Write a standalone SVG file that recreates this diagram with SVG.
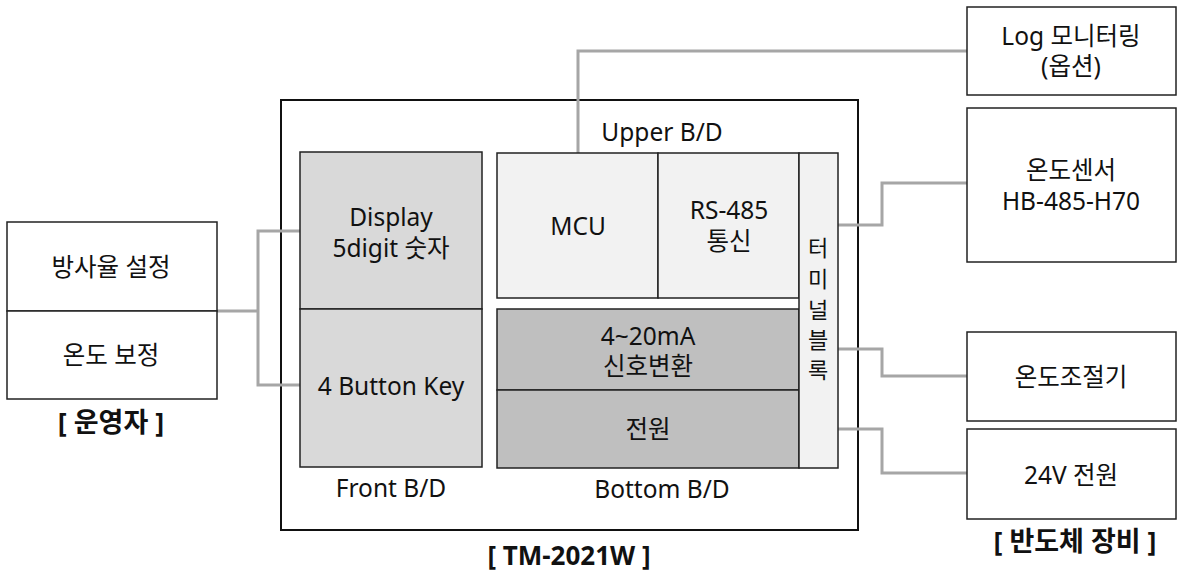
<svg xmlns="http://www.w3.org/2000/svg" width="1186" height="582" viewBox="0 0 1186 582">
<style>
text{font-family:"Noto Sans","Noto Sans CJK KR",sans-serif;font-size:24.5px;fill:#111;text-anchor:middle}
.b{font-weight:bold;font-size:27px}
.t{font-size:22px}
.box{stroke:#222;stroke-width:1.5}
.w{fill:#fff}
.l{fill:#f2f2f2}
.m{fill:#d9d9d9}
.d{fill:#bfbfbf}
.c{fill:none;stroke:#a6a6a6;stroke-width:3}
</style>
<rect width="1186" height="582" fill="#fff"/>
<g id="tm2021w">
<rect x="281" y="100" width="577" height="430" fill="#fff" stroke="#111" stroke-width="2"/>
<text class="b" x="569" y="565" style="font-size:26px">[ TM-2021W ]</text>
</g>
<g id="connectors">
<polyline class="c" points="217,311 258,311"/>
<polyline class="c" points="300,231 258,231 258,385 300,385"/>
<polyline class="c" points="578,153 578,51 967,51"/>
<polyline class="c" points="838,225 882,225 882,183 967,183"/>
<polyline class="c" points="838,349 882,349 882,376 967,376"/>
<polyline class="c" points="838,429 882,429 882,473 967,473"/>
</g>
<g id="operator">
<rect class="box w" x="7" y="222" width="210" height="89"/>
<text x="111" y="276">방사율 설정</text>
<rect class="box w" x="7" y="311" width="210" height="88"/>
<text x="111" y="364">온도 보정</text>
<text class="b" x="111" y="432">[ 운영자 ]</text>
</g>
<g id="front-bd">
<rect class="box m" x="300" y="152" width="182" height="157"/>
<text x="391" y="226">Display</text>
<text x="391" y="257">5digit 숫자</text>
<rect class="box m" x="300" y="309" width="182" height="158"/>
<text x="391" y="395">4 Button Key</text>
<text x="391" y="497">Front B/D</text>
</g>
<g id="upper-bd">
<text x="662" y="141">Upper B/D</text>
<rect class="box l" x="497" y="153" width="161" height="145"/>
<text x="578" y="235">MCU</text>
<rect class="box l" x="658" y="153" width="141" height="145"/>
<text x="729" y="219">RS-485</text>
<text x="729" y="250">통신</text>
</g>
<g id="bottom-bd">
<rect class="box d" x="497" y="309" width="302" height="81"/>
<text x="648" y="345">4~20mA</text>
<text x="648" y="375">신호변환</text>
<rect class="box d" x="497" y="390" width="302" height="78"/>
<text x="648" y="438">전원</text>
<text x="662" y="498">Bottom B/D</text>
</g>
<g id="terminal-block">
<rect class="box l" x="799" y="153" width="39" height="315"/>
<text class="t" x="818" y="256">터</text>
<text class="t" x="818" y="287">미</text>
<text class="t" x="818" y="318">널</text>
<text class="t" x="818" y="348">블</text>
<text class="t" x="818" y="378">록</text>
</g>
<g id="log-monitoring">
<rect class="box w" x="967" y="7" width="209" height="88"/>
<text x="1071" y="45">Log 모니터링</text>
<text x="1071" y="75">(옵션)</text>
</g>
<g id="temp-sensor">
<rect class="box w" x="967" y="108" width="209" height="154"/>
<text x="1071" y="179">온도센서</text>
<text x="1071" y="210">HB-485-H70</text>
</g>
<g id="temp-controller">
<rect class="box w" x="967" y="332" width="209" height="89"/>
<text x="1071" y="386">온도조절기</text>
</g>
<g id="power-24v">
<rect class="box w" x="967" y="429" width="209" height="90"/>
<text x="1071" y="484">24V 전원</text>
<text class="b" x="1075" y="551">[ 반도체 장비 ]</text>
</g>
</svg>
